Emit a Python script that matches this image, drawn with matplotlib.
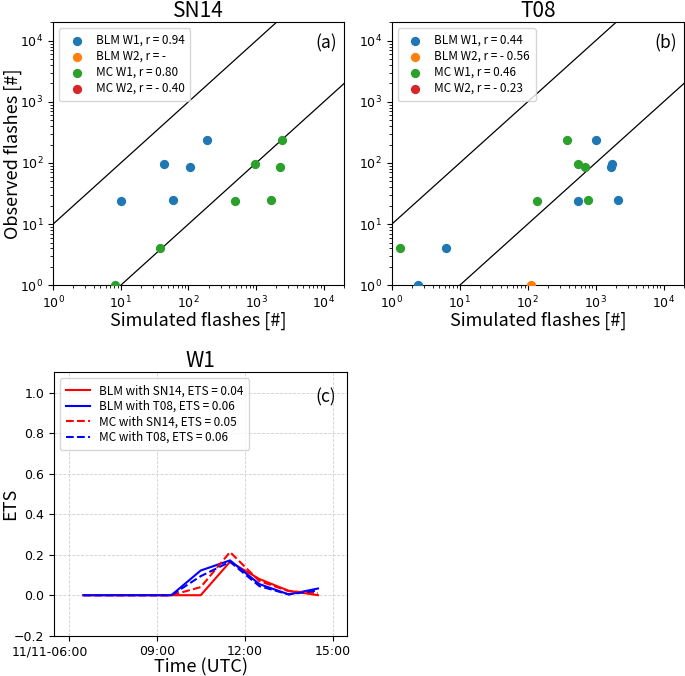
import datetime as dt
import matplotlib
matplotlib.use("Agg")
import matplotlib.pyplot as plt
from matplotlib.transforms import ScaledTranslation

JP = ["Noto Sans CJK JP", "DejaVu Sans"]

# scatter data (a) SN14
sn14_blm_w1_sim = [10.1, 43, 60, 104, 187]
sn14_blm_w1_obs = [24, 98, 25, 87, 240]
sn14_blm_w2_sim = []
sn14_blm_w2_obs = []
sn14_mc_w1_sim = [8.3, 37.7, 496, 977, 1640, 2230, 2440]
sn14_mc_w1_obs = [1, 4, 24, 98, 25, 87, 240]
sn14_mc_w2_sim = []
sn14_mc_w2_obs = []
sn14_labels = ["BLM W1, r = 0.94", "BLM W2, r = -", "MC W1, r = 0.80", "MC W2, r = - 0.40"]

# scatter data (b) T08
t08_blm_w1_sim = [2.4, 6.3, 548, 1000, 1670, 1730, 2120]
t08_blm_w1_obs = [1, 4, 24, 240, 87, 98, 25]
t08_blm_w2_sim = [113]
t08_blm_w2_obs = [1]
t08_mc_w1_sim = [1.3, 138, 383, 548, 707, 776]
t08_mc_w1_obs = [4, 24, 240, 98, 87, 25]
t08_mc_w2_sim = []
t08_mc_w2_obs = []
t08_labels = ["BLM W1, r = 0.44", "BLM W2, r = - 0.56", "MC W1, r = 0.46", "MC W2, r = - 0.23"]

# ETS time series (c)
times = [dt.datetime(2017, 11, 11, h, 30) for h in range(6, 15)]
ets_blm_sn14 = [0, 0, 0, 0, 0.0, 0.165, 0.08, 0.022, 0.0]
ets_blm_t08 = [0, 0, 0, 0, 0.122, 0.172, 0.055, 0.004, 0.033]
ets_mc_sn14 = [0, 0, 0, 0, 0.04, 0.213, 0.07, 0.02, 0.01]
ets_mc_t08 = [0, 0, 0, 0, 0.094, 0.165, 0.045, 0.004, 0.024]
ets_labels = ["BLM with SN14, ETS = 0.04", "BLM with T08, ETS = 0.06",
              "MC with SN14, ETS = 0.05", "MC with T08, ETS = 0.06"]
time_ticks = [dt.datetime(2017, 11, 11, h) for h in (6, 9, 12, 15)]
time_tick_labels = ["11/11-06:00", "09:00", "12:00", "15:00"]


def plot_scatter(ax, series, labels, title, tag, show_ylabel):
    colors = ["C0", "C1", "C2", "C3"]
    for (sim, obs), lab, col in zip(series, labels, colors):
        ax.scatter(sim, obs, s=32, color=col, label=lab, zorder=3)
    ax.set_xscale("log")
    ax.set_yscale("log")
    ax.set_xlim(1, 2e4)
    ax.set_ylim(1, 2e4)
    xs = [1, 2e4]
    ax.plot(xs, [10 * x for x in xs], color="k", lw=0.9)
    ax.plot(xs, [x / 10 for x in xs], color="k", lw=0.9)
    ax.set_title(title, family=JP, fontsize=15, pad=3)
    ax.set_xlabel("Simulated flashes [#]", family=JP, fontsize=13, labelpad=0)
    if show_ylabel:
        ax.set_ylabel("Observed flashes [#]", family=JP, fontsize=13)
        ax.yaxis.set_label_coords(-0.105, 0.5)
    ax.text(0.975, 0.92, tag, transform=ax.transAxes, ha="right", va="center",
            family=JP, fontsize=12.5)
    ax.legend(loc="upper left", prop={"family": JP, "size": 8.5}, scatterpoints=1,
              handletextpad=0.6, borderpad=0.5, labelspacing=0.25)
    ax.tick_params(labelsize=9)


fig = plt.figure(figsize=(6.85, 6.76), dpi=100)

ax_a = fig.add_axes([0.0774, 0.578, 0.425, 0.389])
plot_scatter(ax_a, [(sn14_blm_w1_sim, sn14_blm_w1_obs), (sn14_blm_w2_sim, sn14_blm_w2_obs),
                    (sn14_mc_w1_sim, sn14_mc_w1_obs), (sn14_mc_w2_sim, sn14_mc_w2_obs)],
             sn14_labels, "SN14", "(a)", True)

ax_b = fig.add_axes([0.572, 0.578, 0.4265, 0.389])
plot_scatter(ax_b, [(t08_blm_w1_sim, t08_blm_w1_obs), (t08_blm_w2_sim, t08_blm_w2_obs),
                    (t08_mc_w1_sim, t08_mc_w1_obs), (t08_mc_w2_sim, t08_mc_w2_obs)],
             t08_labels, "T08", "(b)", False)

ax_c = fig.add_axes([0.079, 0.0596, 0.428, 0.3894])
ax_c.plot(times, ets_blm_sn14, color="red", lw=1.5, label=ets_labels[0])
ax_c.plot(times, ets_blm_t08, color="blue", lw=1.5, label=ets_labels[1])
ax_c.plot(times, ets_mc_sn14, color="red", lw=1.5, ls="--", label=ets_labels[2])
ax_c.plot(times, ets_mc_t08, color="blue", lw=1.5, ls="--", label=ets_labels[3])
ax_c.set_xlim(dt.datetime(2017, 11, 11, 5, 30), dt.datetime(2017, 11, 11, 15, 30))
ax_c.set_ylim(-0.2, 1.1)
ax_c.set_xticks(time_ticks)
ax_c.set_xticklabels(time_tick_labels)
first = ax_c.get_xticklabels()[0]
first.set_transform(first.get_transform() + ScaledTranslation(-0.185, 0, fig.dpi_scale_trans))
ax_c.grid(True, ls="--", color="#d0d0d0", lw=0.6)
ax_c.set_title("W1", family=JP, fontsize=15, pad=3)
ax_c.set_xlabel("Time (UTC)", family=JP, fontsize=13, labelpad=0)
ax_c.set_ylabel("ETS", family=JP, fontsize=13)
ax_c.yaxis.set_label_coords(-0.12, 0.5)
ax_c.text(0.962, 0.905, "(c)", transform=ax_c.transAxes, ha="right", va="center",
          family=JP, fontsize=12.5)
ax_c.legend(loc="upper left", prop={"family": JP, "size": 8.5}, borderpad=0.5,
            labelspacing=0.22)
ax_c.tick_params(labelsize=9)

fig.savefig("out.png", dpi=100)
